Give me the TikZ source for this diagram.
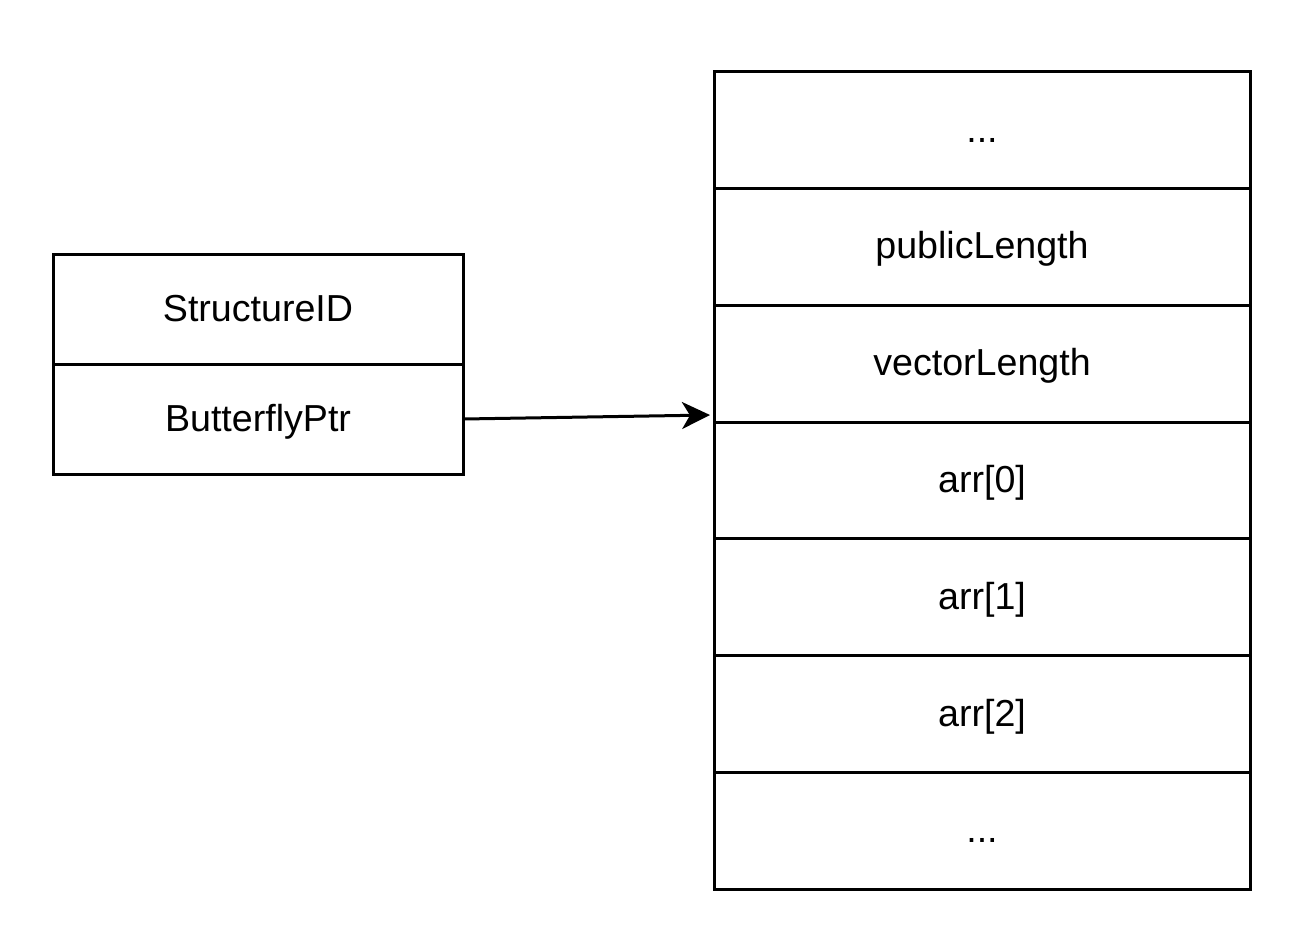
\documentclass[tikz,border=0pt]{standalone}
\usepackage{fontspec}
\setmainfont{Liberation Sans}
\usetikzlibrary{positioning,arrows.meta}

\begin{document}
\begin{tikzpicture}
[x=1pt,y=1pt,
 every node/.style={draw=black,line width=1.5pt,inner sep=0mm,outer sep=0mm,text height=16pt,text depth=4pt,font=\fontsize{18.8}{22}\selectfont},
 hdr/.style={rectangle,minimum width=205pt,minimum height=55pt},
 slot/.style={rectangle,minimum width=268pt,minimum height=58.4pt},
 line width=1.5pt]
\useasboundingbox (0,0) rectangle (645,-475);
\node[hdr]  (sid)  at (129,-154.5)                  {StructureID};
\node[hdr]  (bptr) [on grid,below=55pt of sid]      {ButterflyPtr};

\node[slot] (s0)   at (491,-65)                     {...};
\node[slot] (plen) [on grid,below=58.4pt of s0]     {publicLength};
\node[slot] (vlen) [on grid,below=58.4pt of plen]   {vectorLength};
\node[slot] (a0)   [on grid,below=58.4pt of vlen]   {arr[0]};
\node[slot] (a1)   [on grid,below=58.4pt of a0]     {arr[1]};
\node[slot] (a2)   [on grid,below=58.4pt of a1]     {arr[2]};
\node[slot] (s1)   [on grid,below=58.4pt of a2]     {...};

\coordinate (tip) at (355,-207.5);
\path[-{Stealth[length=14pt,width=13.5pt,inset=4pt]}] (bptr.east) edge (tip);
\end{tikzpicture}
\end{document}
